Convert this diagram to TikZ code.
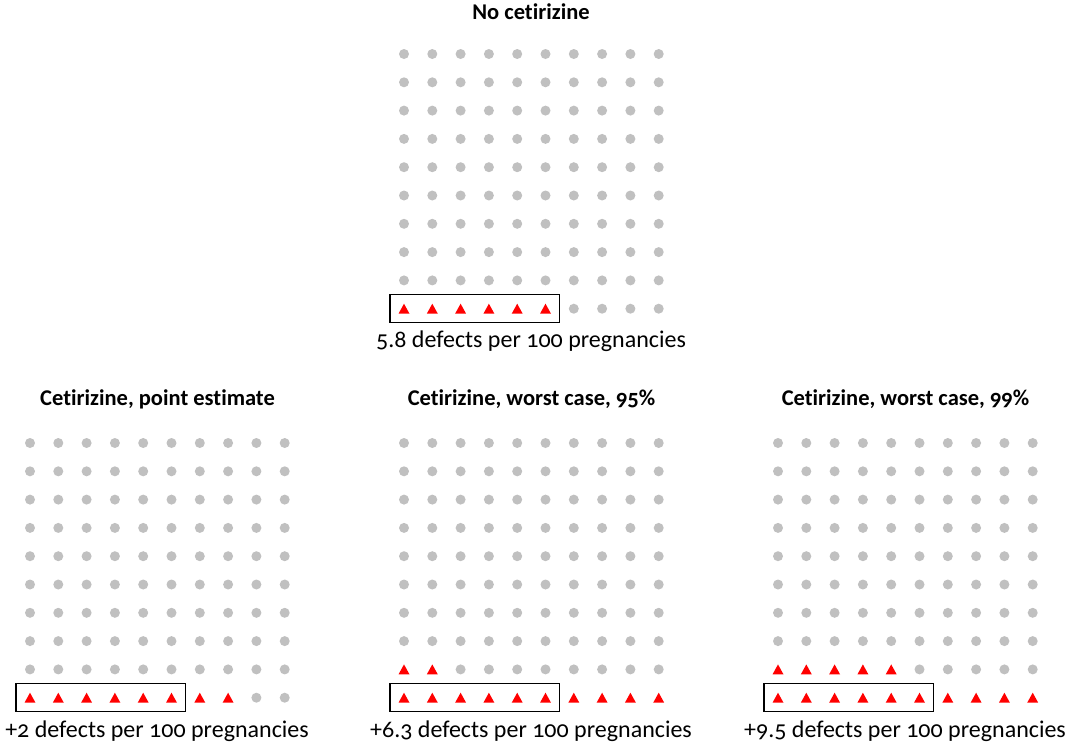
\documentclass[tikz,border=0pt]{standalone}
\usepackage{fontspec}
\setmainfont[Ligatures=NoCommon, Numbers=OldStyle]{Carlito}
\definecolor{dotgray}{RGB}{192,192,192}
\newcommand\dotgrid[4]{%
  \foreach \r in {0,...,9}{%
    \foreach \c in {0,...,9}{%
      \pgfmathtruncatemacro\tri{((\r==9 && \c<#3) || (\r==8 && \c<#4)) ? 1 : 0}%
      \begin{scope}[shift={(#1+\c*28.3,#2+\r*28.3)}]
        \ifnum\tri=1
          \fill[red] (-5.5,5) -- (5.5,5) -- (0,-5) -- cycle;
        \else
          \fill[dotgray] (0,0) circle (5);
        \fi
      \end{scope}
    }%
  }%
  \draw[boxline] (#1-14,#2+9*28.3-14) rectangle (#1+5*28.3+14,#2+9*28.3+14);
}
\begin{document}
\begin{tikzpicture}[x=1pt,y=-1pt,
  title/.style={font=\fontsize{22.5}{26}\selectfont\bfseries, inner sep=0pt},
  caption/.style={font=\fontsize{24}{28}\selectfont, inner sep=0pt},
  boxline/.style={draw=black, line width=1.5pt}]
\useasboundingbox (0,0) rectangle (1070,748);
\dotgrid{404}{54}{6}{0}
\dotgrid{30}{443}{8}{0}
\dotgrid{404}{443}{10}{2}
\dotgrid{778}{443}{10}{5}
\node[title] (t0) at (531,12) {No cetirizine};
\node[caption] (c0) at (531,341) {5.8 defects per 100 pregnancies};
\node[title] (t1) at (157.5,399) {Cetirizine, point estimate};
\node[title] (t2) at (531.5,399) {Cetirizine, worst case, 95\%};
\node[title] (t3) at (905.5,399) {Cetirizine, worst case, 99\%};
\node[caption] (c1) at (157,731) {+2 defects per 100 pregnancies};
\node[caption] (c2) at (531,731) {+6.3 defects per 100 pregnancies};
\node[caption] (c3) at (905,731) {+9.5 defects per 100 pregnancies};
\end{tikzpicture}
\end{document}
